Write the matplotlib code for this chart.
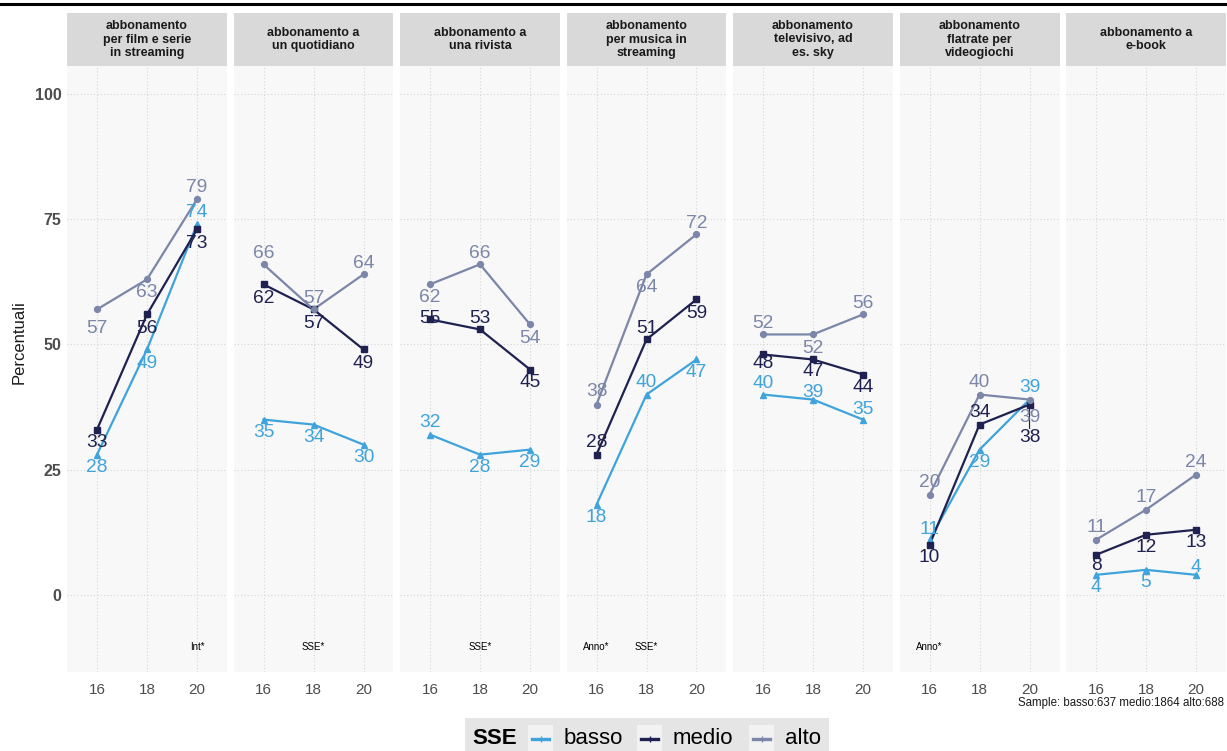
import matplotlib
matplotlib.use("Agg")
import matplotlib.pyplot as plt
from matplotlib.lines import Line2D
from matplotlib.patches import Rectangle

plt.rcParams['font.family'] = ['Liberation Sans', 'DejaVu Sans']

# ---- data -------------------------------------------------------------
years = [16, 18, 20]
panel_titles = [
    "abbonamento\nper film e serie\nin streaming",
    "abbonamento a\nun quotidiano",
    "abbonamento a\nuna rivista",
    "abbonamento\nper musica in\nstreaming",
    "abbonamento\ntelevisivo, ad\nes. sky",
    "abbonamento\nflatrate per\nvideogiochi",
    "abbonamento a\ne-book",
]
basso = [[28, 49, 74], [35, 34, 30], [32, 28, 29], [18, 40, 47],
         [40, 39, 35], [11, 29, 39], [4, 5, 4]]
medio = [[33, 56, 73], [62, 57, 49], [55, 53, 45], [28, 51, 59],
         [48, 47, 44], [10, 34, 38], [8, 12, 13]]
alto = [[57, 63, 79], [66, 57, 64], [62, 66, 54], [38, 64, 72],
        [52, 52, 56], [20, 40, 39], [11, 17, 24]]
sig_notes = [[(20, "Int*")], [(18, "SSE*")], [(18, "SSE*")],
             [(16, "Anno*"), (18, "SSE*")], [], [(16, "Anno*")], []]
sample_sizes = {"basso": 637, "medio": 1864, "alto": 688}
y_ticks = [0, 25, 50, 75, 100]

# ---- label placement (vertical offsets in pixels, + is up) -------------
label_dy = {
    "basso": [[-13, -14, 12], [-13, -13, -13], [12, -13, -13], [-13, 12, -13],
              [11, 7, 10], [10, -13, 12], [-13, -13, 7]],
    "medio": [[-13, -14, -14], [-14, -14, -14], [1, 11, -13], [12, 11, -14],
              [-9, -12, -13], [-13, 12, -33], [-11, -13, -13]],
    "alto": [[-19, -13, 12], [11, 11, 11], [-13, 11, -14], [13, -13, 11],
             [11, -14, 11], [12, 12, -18], [12, 12, 12]],
}

series = [
    ("basso", basso, "#3FA3DC", "^"),
    ("medio", medio, "#1F2150", "s"),
    ("alto", alto, "#7B86A8", "o"),
]

# ---- layout -------------------------------------------------------------
W, H = 1227, 751
fig = plt.figure(figsize=(W / 100, H / 100), dpi=100)
fig.patch.set_facecolor("white")

panel_left0 = 67
panel_step = 166.5
panel_w = 160
panel_top = 66
panel_bottom = 672
strip_top = 13

def fx(px):
    return px / W

def fy(py):
    return 1 - py / H

for i, title in enumerate(panel_titles):
    left = panel_left0 + i * panel_step
    ax = fig.add_axes([fx(left), fy(panel_bottom), fx(panel_w),
                       (panel_bottom - panel_top) / H])
    ax.set_facecolor("#F8F8F8")
    for s in ax.spines.values():
        s.set_visible(False)
    ax.set_xlim(14.8, 21.2)
    ax.set_ylim(-15.4, 105.6)
    ax.set_xticks(years)
    ax.set_xticklabels([str(y) for y in years], fontsize=11, color="#4D4D4D")
    ax.set_yticks(y_ticks)
    if i == 0:
        ax.set_yticklabels([str(t) for t in y_ticks], fontsize=11.5,
                           fontweight="bold", color="#4D4D4D")
    else:
        ax.set_yticklabels([])
    ax.tick_params(axis="x", length=0, pad=8)
    ax.tick_params(axis="y", length=0, pad=4)
    ax.grid(True, color="#D5D5D5", linestyle=(0, (1, 2)), linewidth=0.8)
    ax.set_axisbelow(True)

    for name, vals, col, mk in series:
        ax.plot(years, vals[i], color=col, linewidth=1.6, zorder=2)
    for name, vals, col, mk in series:
        ax.plot(years, vals[i], linestyle="none", marker=mk, markersize=4.2,
                color=col, zorder=3)
    for name, vals, col, mk in series:
        for x, v, dy in zip(years, vals[i], label_dy[name][i]):
            if abs(dy) > 25:
                ax.annotate("", xy=(x, v), xytext=(0, dy + 9),
                            textcoords="offset pixels",
                            arrowprops=dict(arrowstyle="-", color=col, lw=0.8,
                                            shrinkA=0, shrinkB=0), zorder=4)
            ax.annotate(str(v), xy=(x, v), xytext=(0, dy),
                        textcoords="offset pixels", ha="center",
                        va="center", fontsize=13.8, color=col, zorder=5)

    for x, txt in sig_notes[i]:
        ax.text(x, -10.4, txt, ha="center", va="center", fontsize=7,
                color="black")

    # facet strip
    sax = fig.add_axes([fx(left), fy(panel_top), fx(panel_w),
                        (panel_top - strip_top) / H])
    sax.set_facecolor("#D9D9D9")
    sax.set_xticks([])
    sax.set_yticks([])
    for s in sax.spines.values():
        s.set_visible(False)
    sax.text(0.5, 0.5, title, ha="center", va="center", fontsize=9,
             fontweight="bold", color="#1A1A1A", linespacing=1.15,
             transform=sax.transAxes)

# y axis title
fig.text(fx(19), fy(342), "Percentuali", rotation=90, ha="center",
         va="center", fontsize=12, color="#1A1A1A")

# top rule
fig.add_artist(Line2D([0, 1], [fy(3.5), fy(3.5)], color="black",
                      linewidth=2.2, transform=fig.transFigure))

# sample size caption
fig.text(fx(1224), fy(703),
         "Sample: " + " ".join(f"{k}:{v}" for k, v in sample_sizes.items()),
         ha="right", va="center", fontsize=8.3, color="#1A1A1A")

# legend
fig.add_artist(Rectangle((fx(465), 0), fx(829 - 465), (H - 718) / H,
                         transform=fig.transFigure, facecolor="#E5E5E5",
                         edgecolor="none"))
ly = fy(739)
fig.text(fx(472), ly, "SSE", ha="left", va="center", fontsize=16,
         fontweight="bold", color="black")
key_x = [528, 637, 749]
for (name, vals, col, mk), kx in zip(series, key_x):
    fig.add_artist(Rectangle((fx(kx), 0), fx(25), (H - 725) / H,
                             transform=fig.transFigure, facecolor="#F2F2F2",
                             edgecolor="none"))
    fig.add_artist(Line2D([fx(kx + 4), fx(kx + 21)], [ly, ly], color=col,
                          linewidth=2.4, transform=fig.transFigure))
    fig.add_artist(Line2D([fx(kx + 12.5)], [ly], color=col, marker="+",
                          markersize=4, markeredgewidth=1.0,
                          transform=fig.transFigure))
    fig.text(fx(kx + 36), ly, name, ha="left", va="center", fontsize=16,
             color="black")

fig.savefig("out.png", dpi=100, facecolor="white")
